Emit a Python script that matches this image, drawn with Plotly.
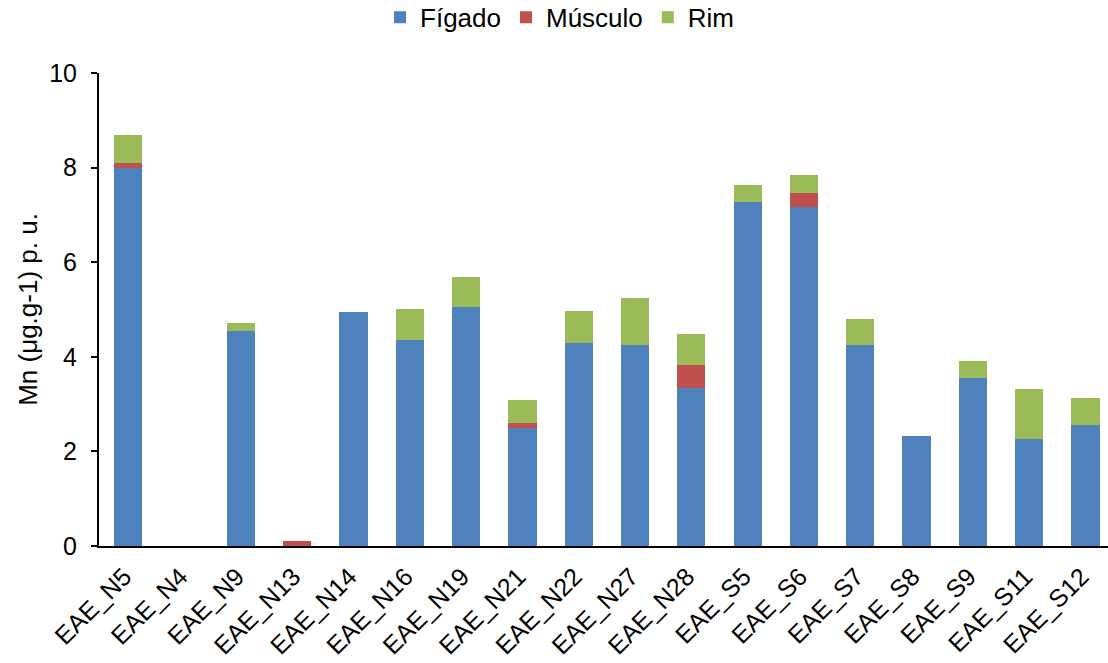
import plotly.graph_objects as go

amostras = ["EAE_N5", "EAE_N4", "EAE_N9", "EAE_N13", "EAE_N14", "EAE_N16", "EAE_N19",
            "EAE_N21", "EAE_N22", "EAE_N27", "EAE_N28", "EAE_S5", "EAE_S6", "EAE_S7",
            "EAE_S8", "EAE_S9", "EAE_S11", "EAE_S12"]
figado = [8.00, 0.00, 4.54, 0.00, 4.94, 4.35, 5.06, 2.50, 4.30, 4.25, 3.34, 7.28, 7.17,
          4.25, 2.32, 3.56, 2.27, 2.55]
musculo = [0.10, 0.00, 0.00, 0.11, 0.00, 0.00, 0.00, 0.10, 0.00, 0.00, 0.48, 0.00, 0.29,
           0.00, 0.00, 0.00, 0.00, 0.00]
rim = [0.58, 0.00, 0.17, 0.00, 0.00, 0.67, 0.62, 0.48, 0.67, 1.00, 0.67, 0.36, 0.39,
       0.54, 0.00, 0.36, 1.05, 0.58]

FONT = "Liberation Sans, Arial, sans-serif"

fig = go.Figure()
for nome, vals, cor in [("Fígado", figado, "#4F81BD"),
                        ("Músculo", musculo, "#C0504D"),
                        ("Rim", rim, "#9BBB59")]:
    fig.add_trace(go.Bar(x=amostras, y=vals, name=nome, marker_color=cor,
                         marker_line_width=0))

fig.update_layout(
    barmode="stack",
    bargap=0.5,
    width=1108, height=663,
    margin=dict(l=99, r=0, t=73, b=117),
    paper_bgcolor="white", plot_bgcolor="white",
    font=dict(family=FONT, size=25, color="#000000"),
    legend=dict(orientation="h", xref="container", yref="container",
                x=0.505, xanchor="center", y=0.974, yanchor="middle",
                font=dict(size=26), itemwidth=30, traceorder="normal"),
    xaxis=dict(range=[-0.52, 17.4], showline=True, linecolor="black", linewidth=2,
               ticks="", tickangle=-45, tickfont=dict(size=25), showgrid=False,
               ticklabelshift=-4, ticklabelstandoff=4),
    yaxis=dict(range=[0, 10], dtick=2, showline=True, linecolor="black", linewidth=2,
               ticks="outside", ticklen=6, tickwidth=2, tickcolor="black",
               ticklabelstandoff=9,
               showgrid=False, zeroline=False, tickfont=dict(size=25),
               title=dict(text="Mn (μg.g-1) p. u.", font=dict(size=26), standoff=4)),
)

fig.write_html("out.html")
